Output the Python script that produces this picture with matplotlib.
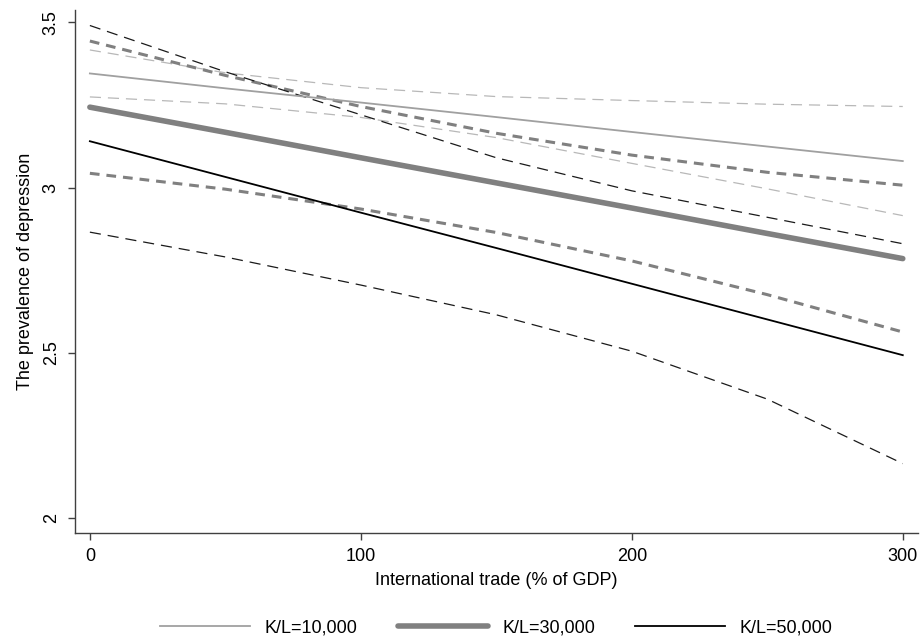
#!/usr/bin/env python3
"""
Predicted prevalence of depression vs international trade, by K/L ratio
"""

import matplotlib
matplotlib.use('Agg')
import matplotlib.pyplot as plt

plt.rcParams['font.family'] = ['Liberation Sans', 'DejaVu Sans']
plt.rcParams['font.size'] = 13
plt.rcParams['lines.scale_dashes'] = False

# x positions (international trade, % of GDP)
trade = [0, 50, 100, 150, 200, 250, 300]

# K/L = 10,000
kl10_est = [3.345, 3.300, 3.257, 3.213, 3.168, 3.124, 3.080]
kl10_hi = [3.416, 3.347, 3.302, 3.275, 3.263, 3.252, 3.245]
kl10_lo = [3.274, 3.253, 3.212, 3.151, 3.073, 2.996, 2.915]

# K/L = 30,000
kl30_est = [3.243, 3.167, 3.090, 3.014, 2.938, 2.861, 2.785]
kl30_hi = [3.443, 3.339, 3.245, 3.164, 3.098, 3.046, 3.007]
kl30_lo = [3.043, 2.995, 2.935, 2.864, 2.778, 2.676, 2.563]

# K/L = 50,000
kl50_est = [3.140, 3.032, 2.924, 2.817, 2.709, 2.601, 2.493]
kl50_hi = [3.490, 3.350, 3.220, 3.090, 2.990, 2.910, 2.830]
kl50_lo = [2.865, 2.790, 2.705, 2.615, 2.505, 2.360, 2.165]

labels = ['K/L=10,000', 'K/L=30,000', 'K/L=50,000']
yticks = [2, 2.5, 3, 3.5]
ytick_labels = ['2', '2.5', '3', '3.5']
xticks = [0, 100, 200, 300]

fig = plt.figure(figsize=(9.21, 6.43), dpi=100)
ax = fig.add_axes([0.0814, 0.171, 0.915, 0.813])

# confidence bands (dashed)
ax.plot(trade, kl10_hi, color='#b8b8b8', lw=0.9, dashes=(8, 5))
ax.plot(trade, kl10_lo, color='#b8b8b8', lw=0.9, dashes=(8, 5))
ax.plot(trade, kl30_hi, color='#808080', lw=2.2, dashes=(7, 5))
ax.plot(trade, kl30_lo, color='#808080', lw=2.2, dashes=(7, 5))
ax.plot(trade, kl50_hi, color='#1a1a1a', lw=0.9, dashes=(8, 5))
ax.plot(trade, kl50_lo, color='#1a1a1a', lw=0.9, dashes=(8, 5))

# point estimates
ax.plot(trade, kl10_est, color='#a0a0a0', lw=1.3, label=labels[0])
ax.plot(trade, kl30_est, color='#808080', lw=4.0, label=labels[1],
        solid_capstyle='round')
ax.plot(trade, kl50_est, color='#000000', lw=1.3, label=labels[2])

ax.set_xlim(-5.5, 305.5)
ax.set_ylim(1.955, 3.536)
ax.set_xticks(xticks)
ax.set_yticks(yticks)
ax.set_yticklabels(ytick_labels, rotation=90, va='center')

for side in ['top', 'right']:
    ax.spines[side].set_visible(False)
for side in ['left', 'bottom']:
    ax.spines[side].set_color('#404040')
    ax.spines[side].set_linewidth(1.0)
ax.tick_params(direction='out', length=5, width=1.0, color='#404040',
               labelsize=13, pad=6)

ax.set_xlabel('International trade (% of GDP)', fontsize=13, labelpad=5)
ax.set_ylabel('The prevalence of depression', fontsize=13, labelpad=6)

ax.legend(loc='center', bbox_to_anchor=(0.5, -0.182), ncol=3,
          frameon=False, handlelength=5.0, columnspacing=2.2,
          handletextpad=0.8, fontsize=13)

fig.savefig('out.png', dpi=100)
